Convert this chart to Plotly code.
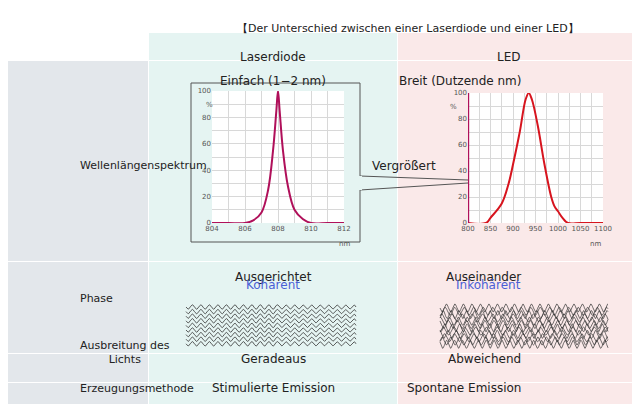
import plotly.graph_objects as go
import numpy as np

laser_nm = [804, 805, 806, 806.5, 807, 807.4, 807.7, 807.9, 808, 808.1, 808.3, 808.6, 809, 809.5, 810, 811, 812]
laser_pct = [0, 0, 0, 2, 8, 25, 55, 85, 100, 85, 55, 28, 10, 3, 0, 0, 0]
led_nm = [800, 840, 850, 875, 890, 900, 915, 928, 935, 942, 955, 970, 985, 992, 1000, 1010, 1022, 1050, 1100]
led_pct = [0, 0, 4, 15, 30, 45, 70, 95, 100, 95, 75, 45, 20, 13, 9, 4, 0, 0, 0]
spike_nm = [801, 801]
spike_pct = [0, 100]

W, H = 640, 404
def px(x): return x / W
def py(y): return 1 - y / H

fig = go.Figure()
shapes = []
def rect(x0, y0, x1, y1, color, line=None):
    shapes.append(dict(type="rect", xref="paper", yref="paper", x0=px(x0), x1=px(x1), y0=py(y1), y1=py(y0),
                       fillcolor=color, line=dict(width=0) if line is None else line, layer="below"))

gray, cyan, pink = "#e3e7eb", "#e5f4f2", "#fae9e9"
rows = [(25, 52), (53, 253), (254, 345), (346, 374), (375, 404)]
for i, (a, b) in enumerate(rows):
    rect(0, a, 140, b, "white" if i == 0 else gray)
    rect(141, a, 389, b, cyan)
    rect(390, a, 640, b, pink)
rect(183, 75, 352, 234, cyan, line=dict(color="#555", width=1))
rect(204, 83, 336, 215, "white")
rect(460, 85, 595, 215, "white")

for (x0, y0, x1, y1) in [(352, 168, 460, 172), (352, 182, 460, 175)]:
    shapes.append(dict(type="line", xref="paper", yref="paper", x0=px(x0), y0=py(y0), x1=px(x1), y1=py(y1),
                       line=dict(color="#555", width=1)))
shapes.append(dict(type="rect", xref="paper", yref="paper", x0=px(350), x1=px(354), y0=py(182), y1=py(168),
                   fillcolor=cyan, line=dict(width=0)))
fig.update_layout(shapes=shapes)

fig.add_trace(go.Scatter(x=laser_nm, y=laser_pct, mode="lines", line=dict(color="#b0105a", width=2, shape="spline"),
                         xaxis="x", yaxis="y", hoverinfo="skip"))
fig.add_trace(go.Scatter(x=led_nm, y=led_pct, mode="lines", line=dict(color="#d7141e", width=2, shape="spline"),
                         xaxis="x2", yaxis="y2", hoverinfo="skip"))
fig.add_trace(go.Scatter(x=spike_nm, y=spike_pct, mode="lines", line=dict(color="#b0105a", width=1.5),
                         xaxis="x2", yaxis="y2", hoverinfo="skip"))

t = np.linspace(0, 1, 400)
for k in range(9):
    y0 = 299 + k * 4.6
    xs = 178 + t * 170
    fig.add_trace(go.Scatter(x=xs, y=y0 + 2.2 * np.sin(2 * np.pi * (xs - 178) / 8.5), mode="lines",
                             line=dict(color="#333", width=0.8), xaxis="x3", yaxis="y3", hoverinfo="skip"))
phases = [0.0, 1.3, 2.1, 3.7, 4.4, 5.2, 0.8, 2.9, 4.9, 1.8, 3.2, 5.7]
periods = [8.5, 9.5, 7.8, 10.2, 8.9, 9.1, 7.5, 10.8, 8.2, 9.8, 8.7, 7.9]
for k in range(12):
    y0 = 300 + k * 3.3
    xs = 432 + t * 168
    fig.add_trace(go.Scatter(x=xs, y=y0 + 4 * np.sin(2 * np.pi * (xs - 432) / periods[k] + phases[k]), mode="lines",
                             line=dict(color="#333", width=0.7), xaxis="x3", yaxis="y3", hoverinfo="skip"))

tickf = dict(size=7, color="#555", family="DejaVu Sans")
grid = "#d8d8d8"
common = dict(gridcolor=grid, tickfont=tickf, zeroline=False, ticks="", automargin=False, tickangle=0)
fig.update_layout(
    width=W, height=H, margin=dict(l=0, r=0, t=0, b=0, autoexpand=False), showlegend=False,
    paper_bgcolor="white", plot_bgcolor="rgba(0,0,0,0)",
    xaxis=dict(domain=[px(204), px(336)], range=[804, 812], tickvals=[804, 806, 808, 810, 812],
               anchor="y", minor=dict(dtick=1, showgrid=True, gridcolor=grid), **common),
    yaxis=dict(domain=[py(215), py(83)], range=[0, 100], tickvals=[0, 20, 40, 60, 80, 100],
               anchor="x", minor=dict(dtick=10, showgrid=True, gridcolor=grid), **common),
    xaxis2=dict(domain=[px(460), px(595)], range=[800, 1100], tickvals=list(range(800, 1101, 50)),
                anchor="y2", minor=dict(dtick=25, showgrid=True, gridcolor=grid), **common),
    yaxis2=dict(domain=[py(215), py(85)], range=[0, 100], tickvals=[0, 20, 40, 60, 80, 100],
                anchor="x2", minor=dict(dtick=10, showgrid=True, gridcolor=grid), **common),
    xaxis3=dict(domain=[0, 1], range=[0, W], visible=False, anchor="y3", automargin=False),
    yaxis3=dict(domain=[0, 1], range=[H, 0], visible=False, anchor="x3", automargin=False),
)

ann = []
def text(x, y, s, size=12, color="#222", **kw):
    ann.append(dict(x=px(x), y=py(y), xref="paper", yref="paper", text=s, showarrow=False,
                    font=dict(size=size, color=color, family="DejaVu Sans"), **kw))
text(400, 12, "【Der Unterschied zwischen einer Laserdiode und einer LED】", 11)
text(265, 40, "Laserdiode"); text(515, 40, "LED")
text(265, 64, "Einfach (1−2 nm)"); text(515, 64, "Breit (Dutzende nm)")
text(70, 157, "Wellenlängenspektrum", 11)
text(396, 158, "Vergrößert", 12)
text(70, 299, "Phase", 11)
text(265, 269, "Ausgerichtet"); text(265, 286, "Kohärent", color="#4a5fd6")
text(515, 269, "Auseinander"); text(515, 286, "Inkohärent", color="#4a5fd6")
text(70, 360, "Ausbreitung des<br>Lichts", 11)
text(265, 360, "Geradeaus"); text(515, 360, "Abweichend")
text(70, 389, "Erzeugungsmethode", 11)
text(265, 389, "Stimulierte Emission"); text(515, 389, "Spontane Emission")
for x, y in [(196, 91), (451, 93)]:
    text(x, y, "%", 7, "#555")
for x, y in [(336, 236), (595, 236)]:
    text(x, y, "nm", 7, "#555")
fig.update_layout(annotations=ann)
fig.write_html("out.html")
